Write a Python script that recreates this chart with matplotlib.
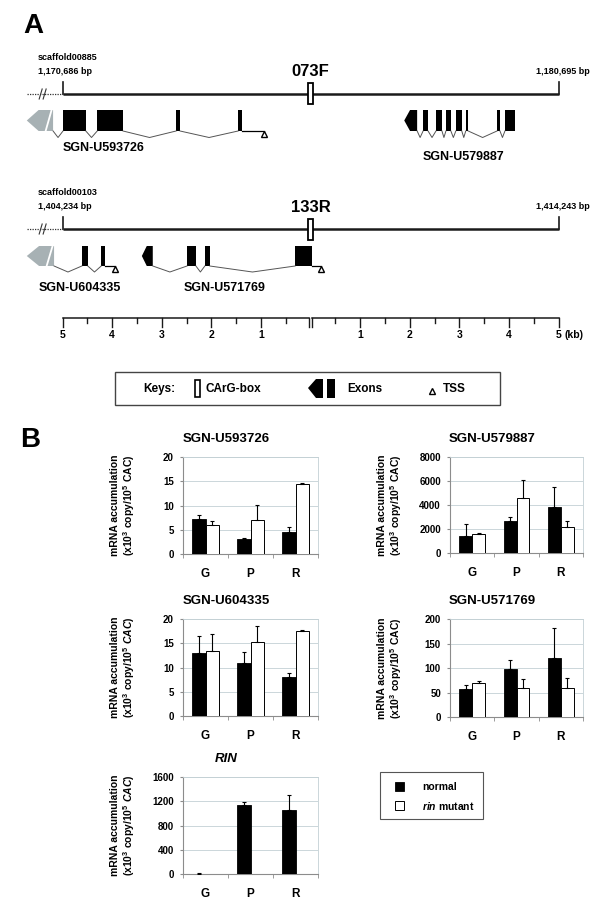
import numpy as np
import matplotlib
matplotlib.use('Agg')
import matplotlib.pyplot as plt
from matplotlib.patches import Rectangle, Polygon

plt.rcParams['font.family'] = ['Liberation Sans', 'DejaVu Sans']
plt.rcParams['mathtext.fontset'] = 'custom'
plt.rcParams['mathtext.rm'] = 'Liberation Sans:bold'
plt.rcParams['mathtext.it'] = 'Liberation Sans:italic:bold'
plt.rcParams['mathtext.bf'] = 'Liberation Sans:bold'

W, H = 600, 905

# ---- panel A: exon positions in kb, relative to the CArG-box ----
u593726_gray = (-5.72, -5.19)
u593726_exons = [(-4.99, -4.53), (-4.30, -3.78), (-2.71, -2.63), (-1.46, -1.38)]
u593726_tss = -0.94
u579887_arrow = (1.89, 2.15)
u579887_exons = [(2.27, 2.37), (2.53, 2.65), (2.73, 2.83), (2.93, 3.05),
                 (3.13, 3.18), (3.76, 3.82), (3.92, 4.12)]
u604335_gray = (-5.72, -5.17)
u604335_exons = [(-4.61, -4.49), (-4.22, -4.14)]
u604335_tss = -3.94
u571769_arrow = (-3.40, -3.18)
u571769_exons = [(-2.49, -2.31), (-2.13, -2.03), (-0.31, 0.03)]
u571769_tss = 0.21
scale_kb = [1, 2, 3, 4, 5]

# ---- panel B: qPCR values ----
stages = ['G', 'P', 'R']
u593726_normal = [7.3, 3.0, 4.5]
u593726_normal_err = [0.8, 0.3, 1.0]
u593726_rin = [5.9, 7.1, 14.5]
u593726_rin_err = [1.0, 3.1, 0.15]
u579887_normal = [1450, 2650, 3800]
u579887_normal_err = [950, 350, 1700]
u579887_rin = [1550, 4600, 2150]
u579887_rin_err = [80, 1500, 500]
u604335_normal = [13.0, 11.0, 8.1]
u604335_normal_err = [3.5, 2.1, 0.8]
u604335_rin = [13.5, 15.2, 17.5]
u604335_rin_err = [3.4, 3.4, 0.2]
u571769_normal = [57, 97, 121]
u571769_normal_err = [9, 20, 60]
u571769_rin = [70, 60, 60]
u571769_rin_err = [4, 17, 20]
rin_normal = [8, 1140, 1050]
rin_normal_err = [3, 40, 260]

fig = plt.figure(figsize=(6, 9.05), dpi=100)

# pixel canvas for labels / boxes
axp = fig.add_axes([0, 0, 1, 1])
axp.set_xlim(0, W)
axp.set_ylim(H, 0)
axp.axis('off')

# kb canvas for the gene models (x in kb, y in px)
axa = fig.add_axes([0, 0, 1, 1])
axa.set_xlim(-310.5 / 49.6, (W - 310.5) / 49.6)
axa.set_ylim(H, 0)
axa.axis('off')


def draw_gene(ax, first, first_color, exons, y0, y1, ydip, tss=None):
    x0, x1 = first
    tip = x0 + 0.45 * (x1 - x0)
    mid = (y0 + y1) / 2
    ax.add_patch(Polygon([(x0, mid), (tip, y0), (x1, y0), (x1, y1), (tip, y1)],
                         closed=True, fc=first_color, ec='none'))
    if first_color != 'black':
        ax.plot([x1 - 0.15, x1 - 0.03], [y1, y0], color='white', lw=1.3)
    for s, e in exons:
        ax.add_patch(Rectangle((s, y0), e - s, y1 - y0, fc='black', ec='none'))
    blocks = [first] + exons
    for a, b in zip(blocks[:-1], blocks[1:]):
        ax.plot([a[1], (a[1] + b[0]) / 2, b[0]], [y1, ydip, y1], color='#555555', lw=0.7)
    if tss is not None:
        last = blocks[-1][1]
        ax.plot([last, tss], [y1, y1], color='black', lw=0.9)
        ax.plot(tss, y1 + 3.5, marker='^', ms=4, mfc='white', mec='black', mew=1)


def draw_locus(ax, y, scaffold, start, name, end):
    ax.plot([-5, 5], [y, y], color='#1a1a1a', lw=1.8, solid_capstyle='butt')
    ax.plot([-5, -5], [y - 12, y], color='#1a1a1a', lw=1.2)
    ax.plot([5, 5], [y - 12, y], color='#1a1a1a', lw=1.2)
    ax.plot([-5.72, -5], [y, y], color='#333333', lw=0.9, ls=(0, (1, 1)))
    for dx in (-0.05, 0.03):
        ax.plot([-5.42 + dx, -5.36 + dx], [y + 5, y - 5], color='#333333', lw=0.8)
    ax.add_patch(Rectangle((-0.05, y - 10.5), 0.1, 21, fc='white', ec='black', lw=1.3, zorder=5))
    axp.text(38, y - 37, scaffold, fontsize=6.5, fontweight='bold', va='center')
    axp.text(38, y - 23, start, fontsize=6.5, fontweight='bold', va='center')
    axp.text(310.5, y - 22, name, fontsize=12, fontweight='bold', ha='center', va='center')
    axp.text(590, y - 23, end, fontsize=6.5, fontweight='bold', ha='right', va='center')


axp.text(23, 26, 'A', fontsize=20, fontweight='bold', va='center')
draw_locus(axa, 94, 'scaffold00885', '1,170,686 bp', '073F', '1,180,695 bp')
draw_gene(axa, u593726_gray, '#a7b1b4', u593726_exons, 110, 131, 137.5, u593726_tss)
draw_gene(axa, u579887_arrow, 'black', u579887_exons, 110, 131, 137.5)
axp.text(104, 148, 'SGN-U593726', fontsize=9, fontweight='bold', ha='center', va='center')
axp.text(463, 157, 'SGN-U579887', fontsize=9, fontweight='bold', ha='center', va='center')

draw_locus(axa, 229, 'scaffold00103', '1,404,234 bp', '133R', '1,414,243 bp')
draw_gene(axa, u604335_gray, '#a7b1b4', u604335_exons, 246, 266, 272, u604335_tss)
draw_gene(axa, u571769_arrow, 'black', u571769_exons, 246, 266, 272, u571769_tss)
axp.text(80, 288, 'SGN-U604335', fontsize=9, fontweight='bold', ha='center', va='center')
axp.text(225, 288, 'SGN-U571769', fontsize=9, fontweight='bold', ha='center', va='center')

# scale bar
ys = 318
for side in (-1, 1):
    gap = 0.03 * side
    axa.plot([gap, 5 * side], [ys, ys], color='#1a1a1a', lw=1.1)
    for k in np.arange(0, 5.01, 0.5):
        xk = side * k if k > 0 else gap
        ln = 9 if k % 1 == 0 else 5
        axa.plot([xk, xk], [ys, ys + ln], color='#1a1a1a', lw=1.0)
    for k in scale_kb:
        axa.text(side * k, ys + 17, str(k), fontsize=7.5, fontweight='bold', ha='center', va='center')
axa.text(5.12, ys + 17, '(kb)', fontsize=7.5, fontweight='bold', ha='left', va='center')

# keys box
axp.add_patch(Rectangle((115, 372), 385, 33, fc='white', ec='#444444', lw=1.0))
axp.text(143, 389, 'Keys:', fontsize=8.5, fontweight='bold', va='center')
axp.add_patch(Rectangle((195, 380), 4.5, 17, fc='white', ec='black', lw=1.2))
axp.text(206, 389, 'CArG-box', fontsize=8.5, fontweight='bold', va='center')
axp.add_patch(Polygon([(308, 388), (316, 379), (323, 379), (323, 398), (316, 398)], closed=True, fc='black'))
axp.add_patch(Rectangle((327, 379), 8, 19, fc='black'))
axp.text(347, 389, 'Exons', fontsize=8.5, fontweight='bold', va='center')
axp.plot(432, 391, marker='^', ms=4, mfc='white', mec='black', mew=1)
axp.text(443, 389, 'TSS', fontsize=8.5, fontweight='bold', va='center')

# ---- panel B ----
axp.text(20, 440, 'B', fontsize=20, fontweight='bold', va='center')


def px_axes(x0, y0, x1, y1):
    return fig.add_axes([x0 / W, 1 - y1 / H, (x1 - x0) / W, (y1 - y0) / H])


def bar_panel(box, title, normal, nerr, rin, rerr, ymax, step, cac_italic=False, title_italic=False):
    ax = px_axes(*box)
    x = np.arange(3)
    w = 0.29
    ax.bar(x - w / 2, normal, w, color='black', edgecolor='black', lw=0.6, zorder=3)
    ax.errorbar(x - w / 2, normal, yerr=[np.zeros(3), nerr], fmt='none',
                ecolor='black', elinewidth=0.8, capsize=1.5, capthick=0.8, zorder=4)
    if rin is not None:
        ax.bar(x + w / 2, rin, w, color='white', edgecolor='black', lw=0.7, zorder=3)
        ax.errorbar(x + w / 2, rin, yerr=[np.zeros(3), rerr], fmt='none',
                    ecolor='black', elinewidth=0.8, capsize=1.5, capthick=0.8, zorder=4)
    ax.set_xlim(-0.5, 2.5)
    ax.set_ylim(0, ymax)
    ax.set_yticks(np.arange(0, ymax + 1, step))
    ax.yaxis.grid(True, color='#c3d0d5', lw=0.6)
    ax.set_axisbelow(True)
    for s in ('top', 'right'):
        ax.spines[s].set_color('#c3d0d5')
        ax.spines[s].set_linewidth(0.6)
    for s in ('left', 'bottom'):
        ax.spines[s].set_color('#8c8c8c')
        ax.spines[s].set_linewidth(0.8)
    ax.set_xticks(x)
    ax.set_xticklabels(stages, fontsize=8.5, fontweight='bold')
    ax.set_xticks([-0.5, 0.5, 1.5, 2.5], minor=True)
    ax.tick_params(axis='x', which='major', length=0, pad=10)
    ax.tick_params(axis='x', which='minor', length=3, color='#8c8c8c')
    ax.tick_params(axis='y', length=2.5, color='#8c8c8c', labelsize=7, pad=4)
    for t in ax.get_yticklabels():
        t.set_fontweight('bold')
    cac = r'$\mathit{CAC}$' if cac_italic else 'CAC'
    ax.set_ylabel('mRNA accumulation\n(x10$^3$ copy/10$^5$ ' + cac + ')',
                  fontsize=7.5, fontweight='bold', linespacing=1.1)
    ax.yaxis.set_label_coords(-46 / (box[2] - box[0]), 0.5)
    ax.text(0.32, 1 + 18 / (box[3] - box[1]), title, transform=ax.transAxes,
            fontsize=9.5, fontweight='bold', ha='center', va='center',
            fontstyle='italic' if title_italic else 'normal')
    return ax


bar_panel((183, 457, 318, 554), 'SGN-U593726', u593726_normal, u593726_normal_err,
          u593726_rin, u593726_rin_err, 20, 5)
bar_panel((450, 457, 583, 553), 'SGN-U579887', u579887_normal, u579887_normal_err,
          u579887_rin, u579887_rin_err, 8000, 2000)
bar_panel((183, 619, 318, 716), 'SGN-U604335', u604335_normal, u604335_normal_err,
          u604335_rin, u604335_rin_err, 20, 5, cac_italic=True)
bar_panel((450, 619, 583, 717), 'SGN-U571769', u571769_normal, u571769_normal_err,
          u571769_rin, u571769_rin_err, 200, 50)
bar_panel((183, 777, 318, 874), 'RIN', rin_normal, rin_normal_err,
          None, None, 1600, 400, cac_italic=True, title_italic=True)

# legend box
axp.add_patch(Rectangle((380, 772), 103, 47, fc='white', ec='#555555', lw=0.8))
axp.add_patch(Rectangle((395, 782), 9, 9, fc='black', ec='black', lw=0.6))
axp.add_patch(Rectangle((395, 801), 9, 9, fc='white', ec='black', lw=0.7))
axp.text(422, 786.5, 'normal', fontsize=7.5, fontweight='bold', va='center')
axp.text(422, 805.5, r'$\mathit{rin}$ mutant', fontsize=7.5, fontweight='bold', va='center')

fig.savefig('out.png', dpi=100, facecolor='white')
